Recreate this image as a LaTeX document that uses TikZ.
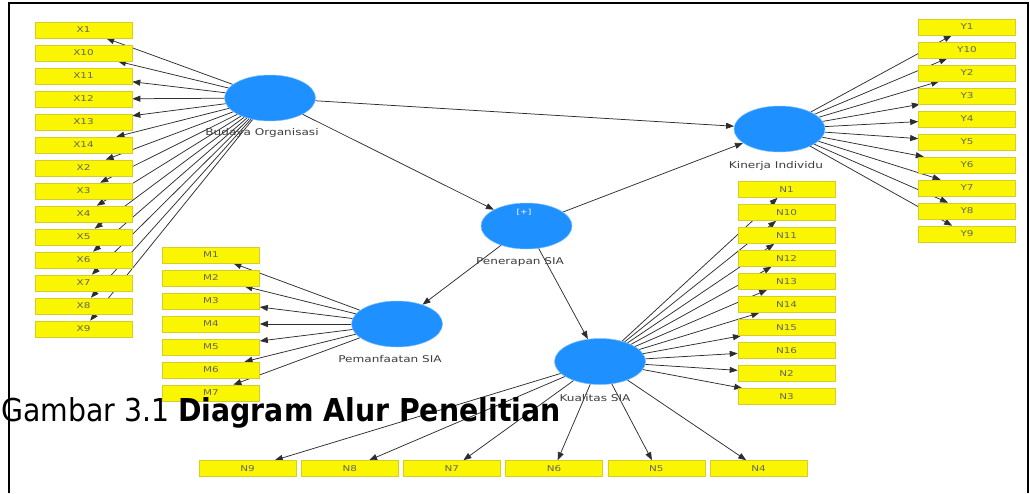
\documentclass[tikz,border=0pt]{standalone}
\usepackage{fontspec}
\usetikzlibrary{shapes.geometric,arrows.meta,backgrounds}
\newfontfamily\lblfont[FakeStretch=1.3]{DejaVu Sans}
\newfontfamily\capfont[FakeStretch=0.9]{DejaVu Sans}
\definecolor{boxfill}{RGB}{250,245,0}
\definecolor{boxdraw}{RGB}{215,205,40}
\definecolor{latblue}{RGB}{30,144,255}
\definecolor{edgecol}{RGB}{45,45,45}
\definecolor{lblgray}{RGB}{100,100,100}
\definecolor{latlblcol}{RGB}{60,60,60}
\tikzset{
  ind/.style={rectangle, fill=boxfill, draw=boxdraw, line width=0.6pt, minimum width=97pt, minimum height=16pt, inner sep=0pt, font=\lblfont\fontsize{8}{9}\selectfont, text=lblgray},
  lat/.style={ellipse, fill=latblue, draw=latblue!60!white, line width=0.5pt, minimum width=91pt, minimum height=46pt, inner sep=0pt},
  latlbl/.style={font=\lblfont\fontsize{9.3}{10}\selectfont, text=latlblcol, inner sep=0pt},
  edge/.style={draw=edgecol, line width=0.75pt, -{Triangle[length=8pt,width=6pt]}},
  frame/.style={line width=2pt, black}
}
\begin{document}
\begin{tikzpicture}[x=1pt,y=-1pt]
\useasboundingbox (0,0) rectangle (1030,493);
% latent variables
\node[lat] (BO) at (270,98) {};
\node[lat] (KI) at (779.5,129) {};
\node[lat] (PS) at (526.5,226) {};
\node[lat] (PM) at (397,324) {};
\node[lat] (KS) at (600,361.5) {};
\node[latlbl] (BOl) at (262,133) {Budaya Organisasi};
\node[latlbl] (KIl) at (776,166) {Kinerja Individu};
\node[latlbl] (PSl) at (520,262) {Penerapan SIA};
\node[latlbl] (PMl) at (390,359) {Pemanfaatan SIA};
\node[latlbl] (KSl) at (595,398) {Kualitas SIA};
\node[latlbl, text=white, font=\lblfont\fontsize{7}{8}\selectfont] (PSp) at (524,212) {[+]};
% indicators
\foreach \lab [count=\i from 0] in {X1,X10,X11,X12,X13,X14,X2,X3,X4,X5,X6,X7,X8,X9}
  \node[ind] (\lab) at (83.5,{30+23*\i}) {\lab};
\foreach \lab [count=\i from 0] in {Y1,Y10,Y2,Y3,Y4,Y5,Y6,Y7,Y8,Y9}
  \node[ind] (\lab) at (967,{27+23*\i}) {\lab};
\foreach \lab [count=\i from 0] in {M1,M2,M3,M4,M5,M6,M7}
  \node[ind] (\lab) at (211,{255+23*\i}) {\lab};
\foreach \lab [count=\i from 0] in {N1,N10,N11,N12,N13,N14,N15,N16,N2,N3}
  \node[ind] (\lab) at (786.5,{189.5+23*\i}) {\lab};
\foreach \lab [count=\i from 0] in {N9,N8,N7,N6,N5,N4}
  \node[ind] (\lab) at ({247.5+102.2*\i},468.5) {\lab};
% connectors
\begin{pgfonlayer}{background}
\foreach \lab in {X1,X10,X11,X12,X13,X14,X2,X3,X4,X5,X6,X7,X8,X9}
  \draw[edge] (BO) -- (\lab);
\foreach \lab in {Y1,Y10,Y2,Y3,Y4,Y5,Y6,Y7,Y8,Y9}
  \draw[edge] (KI) -- (\lab);
\foreach \lab in {M1,M2,M3,M4,M5,M6,M7}
  \draw[edge] (PM) -- (\lab);
\foreach \lab in {N1,N10,N11,N12,N13,N14,N15,N16,N2,N3,N9,N8,N7,N6,N5,N4}
  \draw[edge] (KS) -- (\lab);
\draw[edge] (BO) -- (KI);
\draw[edge] (BO) -- (PS);
\draw[edge] (PS) -- (KI);
\draw[edge] (PS) -- (PM);
\draw[edge] (PS) -- (KS);
\end{pgfonlayer}
% caption
\node[anchor=base west, inner sep=0pt] (cap) at (1,421) {\capfont\fontsize{31.5}{36}\selectfont Gambar 3.1 \textbf{Diagram Alur Penelitian}};
% frame
\coordinate (f1) at (9,493);
\coordinate (f2) at (9,3);
\coordinate (f3) at (1028,3);
\coordinate (f4) at (1028,493);
\draw[frame] (f1) -- (f2) -- (f3) -- (f4);
\end{tikzpicture}
\end{document}
